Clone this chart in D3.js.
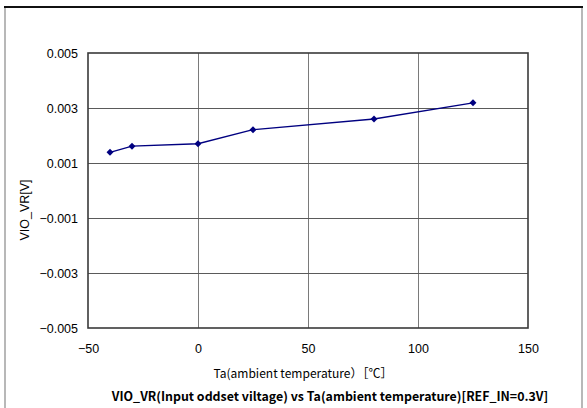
<!DOCTYPE html>
<html>
<head>
<meta charset="utf-8">
<script src="https://cdn.jsdelivr.net/npm/d3@7"></script>
<style>
  html, body { margin: 0; padding: 0; background: #fff; }
  svg { display: block; }
  text { font-family: "Liberation Sans", Arial, sans-serif; fill: #000; }
  .cjk { font-family: "Noto Sans CJK JP", "Liberation Sans", sans-serif; }
</style>
</head>
<body>
<svg id="chart" width="587" height="408"></svg>
<script>
// Input offset voltage vs ambient temperature
const temperatures = [-40, -30, 0, 25, 80, 125];
const offsetVoltage = [0.00139, 0.00161, 0.00170, 0.00221, 0.00260, 0.00319];
const xTicks = [-50, 0, 50, 100, 150];
const yTicks = [-0.005, -0.003, -0.001, 0.001, 0.003, 0.005];

const chartTitle = "VIO_VR(Input oddset viltage) vs Ta(ambient temperature)[REF_IN=0.3V]";
const xTitle = "Ta(ambient temperature）［℃］";
const yTitle = "VIO_VR[V]";

const svg = d3.select("#chart");
const plot = { left: 88, right: 528, top: 53, bottom: 328 };

const x = d3.scaleLinear().domain([-50, 150]).range([plot.left, plot.right]);
const y = d3.scaleLinear().domain([-0.005, 0.005]).range([plot.bottom, plot.top]);

// outer chart frame
svg.append("line").attr("x1", 5).attr("x2", 5).attr("y1", 7).attr("y2", 408)
  .attr("stroke", "#b8b8b8").attr("stroke-width", 2);
svg.append("line").attr("x1", 582).attr("x2", 582).attr("y1", 7).attr("y2", 408)
  .attr("stroke", "#b8b8b8").attr("stroke-width", 2);
svg.append("line").attr("x1", 4).attr("x2", 583).attr("y1", 7).attr("y2", 7)
  .attr("stroke", "#111").attr("stroke-width", 2);

// gridlines
const grid = svg.append("g");
grid.selectAll(".gx").data(xTicks.slice(1, -1)).enter().append("line")
  .attr("x1", d => Math.round(x(d)) + 0.5).attr("x2", d => Math.round(x(d)) + 0.5)
  .attr("y1", plot.top).attr("y2", plot.bottom)
  .attr("stroke", "#7a7a7a").attr("stroke-width", 1);
grid.selectAll(".gy").data(yTicks.slice(1, -1)).enter().append("line")
  .attr("y1", d => Math.round(y(d)) + 0.5).attr("y2", d => Math.round(y(d)) + 0.5)
  .attr("x1", plot.left).attr("x2", plot.right)
  .attr("stroke", "#5a5a5a").attr("stroke-width", 1);

// plot area border
svg.append("rect")
  .attr("x", plot.left).attr("y", plot.top)
  .attr("width", plot.right - plot.left).attr("height", plot.bottom - plot.top)
  .attr("fill", "none").attr("stroke", "#3a3a3a").attr("stroke-width", 1.6);

// axes (labels only; the border carries the lines)
const xAxis = d3.axisBottom(x).tickValues(xTicks).tickSize(0).tickPadding(16)
  .tickFormat(d => d < 0 ? "\u2212" + Math.abs(d) : String(d));
const gx = svg.append("g").attr("transform", `translate(0,${plot.bottom})`).call(xAxis);
gx.select(".domain").remove();
gx.selectAll("text").attr("font-size", 12.5).attr("font-family", "Liberation Sans, Arial, sans-serif");

const yAxis = d3.axisLeft(y).tickValues(yTicks).tickSize(0).tickPadding(10)
  .tickFormat(d => (d < 0 ? "\u2212" : "") + d3.format(".3f")(Math.abs(d)));
const gy = svg.append("g").attr("transform", `translate(${plot.left},0)`).call(yAxis);
gy.select(".domain").remove();
gy.selectAll("text").attr("font-size", 12.5).attr("font-family", "Liberation Sans, Arial, sans-serif");

// axis titles
svg.append("text").attr("class", "cjk")
  .attr("x", 303).attr("y", 378).attr("text-anchor", "middle")
  .attr("font-size", 12).text(xTitle);
svg.append("text")
  .attr("transform", "translate(29,210) rotate(-90)")
  .attr("text-anchor", "middle").attr("font-size", 12.5).text(yTitle);

// chart title
svg.append("text").attr("class", "cjk")
  .attr("x", 330).attr("y", 401).attr("text-anchor", "middle")
  .attr("font-size", 12.4).attr("font-weight", "bold").text(chartTitle);

// data series
const pts = temperatures.map((t, i) => [t, offsetVoltage[i]]);
svg.append("path").datum(pts)
  .attr("fill", "none").attr("stroke", "#000080").attr("stroke-width", 1.3)
  .attr("d", d3.line().x(d => x(d[0])).y(d => y(d[1])));

// square markers turned 45° to form even diamonds
svg.selectAll(".marker").data(pts).enter().append("path")
  .attr("transform", d => `translate(${x(d[0])},${y(d[1])}) rotate(45)`)
  .attr("d", d3.symbol().type(d3.symbolSquare).size(24))
  .attr("fill", "#000080");
</script>
</body>
</html>
